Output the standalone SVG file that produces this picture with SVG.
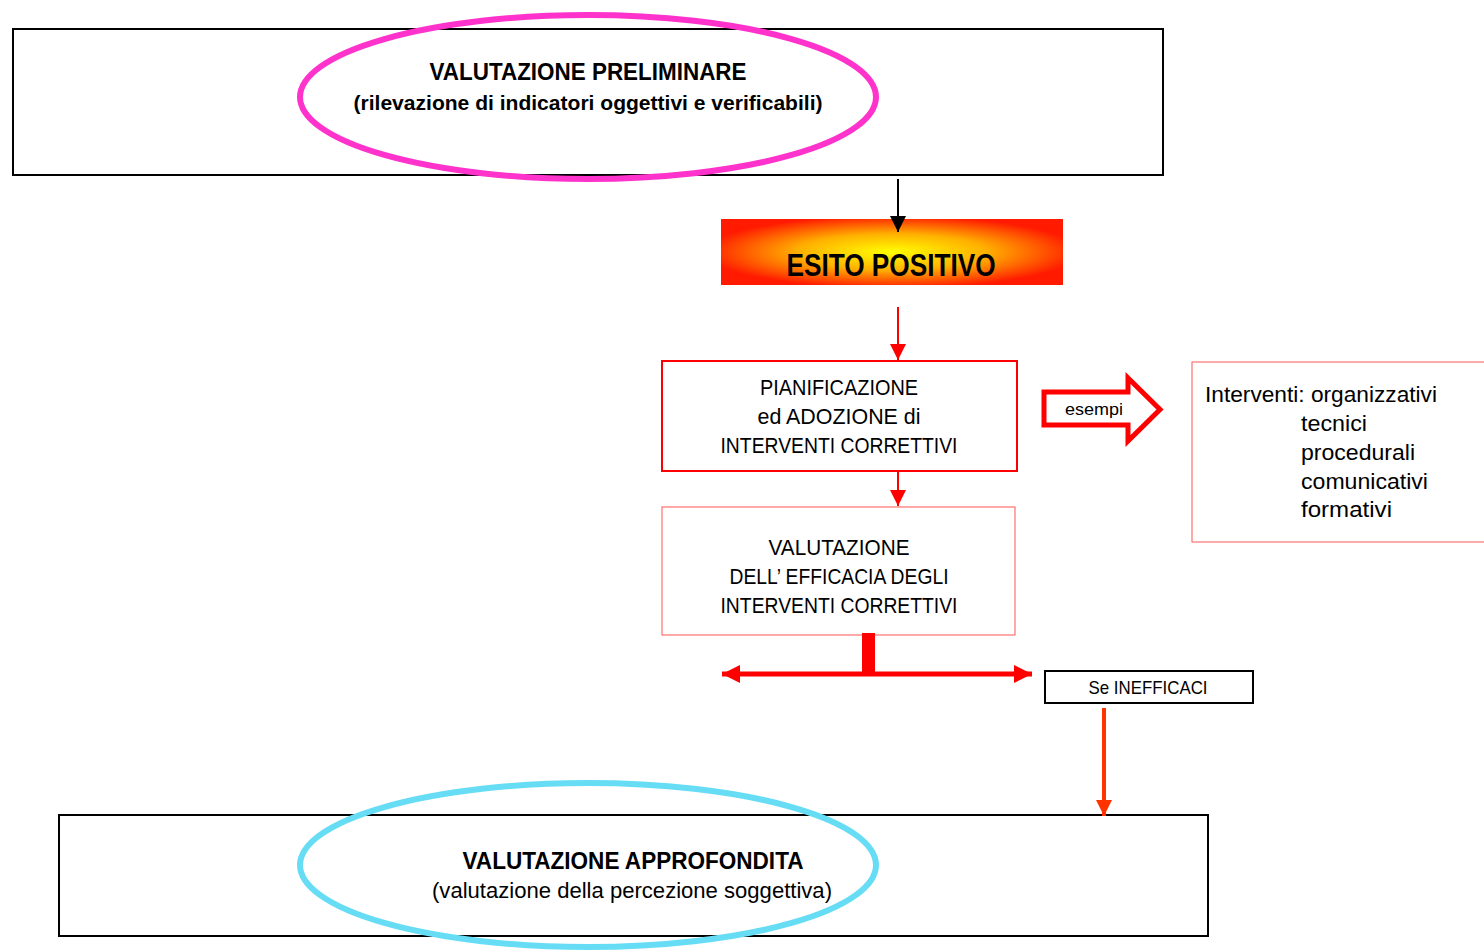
<svg xmlns="http://www.w3.org/2000/svg" width="1484" height="950" viewBox="0 0 1484 950">
<style>
text{font-family:"Liberation Sans",Arial,sans-serif;fill:#000}
.b{font-weight:bold}
.c{text-anchor:middle}
</style>
<defs>
<radialGradient id="g" cx="0.5" cy="0.5" r="0.55" gradientTransform="translate(0.5 0.5) scale(1 1) translate(-0.5 -0.5)">
<stop offset="0" stop-color="#ffff00"/>
<stop offset="0.5" stop-color="#ffb000"/>
<stop offset="1" stop-color="#ff1a00"/>
</radialGradient>
<marker id="ab" viewBox="0 0 10 10" refX="10" refY="5" markerWidth="16" markerHeight="16" markerUnits="userSpaceOnUse" orient="auto"><path d="M0,0L10,5L0,10z" fill="#000"/></marker>
<marker id="ar" viewBox="0 0 10 10" refX="10" refY="5" markerWidth="16" markerHeight="16" markerUnits="userSpaceOnUse" orient="auto"><path d="M0,0L10,5L0,10z" fill="#ff0000"/></marker>
<marker id="ao" viewBox="0 0 10 10" refX="10" refY="5" markerWidth="16" markerHeight="16" markerUnits="userSpaceOnUse" orient="auto"><path d="M0,0L10,5L0,10z" fill="#ff3300"/></marker>
<marker id="ah" viewBox="0 0 10 10" refX="10" refY="5" markerWidth="18" markerHeight="18" markerUnits="userSpaceOnUse" orient="auto-start-reverse"><path d="M0,0L10,5L0,10z" fill="#ff0000"/></marker>
</defs>
<rect width="1484" height="950" fill="#fff"/>

<g id="prelim">
<rect x="13" y="29" width="1150" height="146" fill="#fff" stroke="#000" stroke-width="2"/>
<ellipse cx="588" cy="97" rx="288" ry="82" fill="none" stroke="#ff33cc" stroke-width="6"/>
<text class="b c" x="588" y="80" font-size="24" textLength="317" lengthAdjust="spacingAndGlyphs">VALUTAZIONE PRELIMINARE</text>
<text class="b c" x="588" y="110" font-size="21" textLength="469" lengthAdjust="spacingAndGlyphs">(rilevazione di indicatori oggettivi e verificabili)</text>
</g>

<g id="esito">
<rect x="721" y="219" width="342" height="66" fill="url(#g)"/>
<text class="b c" x="891" y="276" font-size="31" textLength="209" lengthAdjust="spacingAndGlyphs">ESITO POSITIVO</text>
</g>

<g id="pianificazione">
<rect x="662" y="361" width="355" height="110" fill="#fff" stroke="#ff0000" stroke-width="2"/>
<text class="c" x="839" y="395" font-size="22" textLength="158" lengthAdjust="spacingAndGlyphs">PIANIFICAZIONE</text>
<text class="c" x="839" y="424" font-size="22" textLength="163" lengthAdjust="spacingAndGlyphs">ed ADOZIONE  di</text>
<text class="c" x="839" y="453" font-size="22" textLength="237" lengthAdjust="spacingAndGlyphs">INTERVENTI CORRETTIVI</text>
</g>

<g id="valutazione-efficacia">
<rect x="662" y="507" width="353" height="128" fill="#fff" stroke="#ff5555" stroke-width="1"/>
<text class="c" x="839" y="555" font-size="22" textLength="141" lengthAdjust="spacingAndGlyphs">VALUTAZIONE</text>
<text class="c" x="839" y="584" font-size="22" textLength="219" lengthAdjust="spacingAndGlyphs">DELL’ EFFICACIA DEGLI</text>
<text class="c" x="839" y="613" font-size="22" textLength="237" lengthAdjust="spacingAndGlyphs">INTERVENTI CORRETTIVI</text>
</g>

<g id="esempi">
<path d="M1044,392 L1128,392 L1128,378 L1160,409.5 L1128,441 L1128,425 L1044,425 Z" fill="#fff" stroke="#ff0000" stroke-width="5" stroke-linejoin="miter"/>
<text class="c" x="1094" y="415" font-size="17" textLength="58" lengthAdjust="spacingAndGlyphs">esempi</text>
</g>

<g id="interventi">
<rect x="1192" y="362" width="300" height="180" fill="#fff" stroke="#ff5555" stroke-width="1"/>
<text x="1205" y="402" font-size="22" textLength="232" lengthAdjust="spacingAndGlyphs">Interventi: organizzativi</text>
<text x="1301" y="431" font-size="22" textLength="66" lengthAdjust="spacingAndGlyphs">tecnici</text>
<text x="1301" y="460" font-size="22" textLength="114" lengthAdjust="spacingAndGlyphs">procedurali</text>
<text x="1301" y="489" font-size="22" textLength="127" lengthAdjust="spacingAndGlyphs">comunicativi</text>
<text x="1301" y="517" font-size="22" textLength="91" lengthAdjust="spacingAndGlyphs">formativi</text>
</g>

<g id="inefficaci">
<rect x="1045" y="671" width="208" height="32" fill="#fff" stroke="#000" stroke-width="2"/>
<text class="c" x="1148" y="694" font-size="19" textLength="119" lengthAdjust="spacingAndGlyphs">Se INEFFICACI</text>
</g>

<g id="approfondita">
<rect x="59" y="815" width="1149" height="121" fill="#fff" stroke="#000" stroke-width="2"/>
<ellipse cx="588" cy="865" rx="288" ry="82" fill="none" stroke="#66ddf5" stroke-width="6"/>
<text class="b c" x="633" y="869" font-size="24" textLength="341" lengthAdjust="spacingAndGlyphs">VALUTAZIONE APPROFONDITA</text>
<text class="c" x="632" y="898" font-size="22" textLength="400" lengthAdjust="spacingAndGlyphs">(valutazione della percezione soggettiva)</text>
</g>

<g id="connectors">
<line x1="898" y1="179" x2="898" y2="232" stroke="#000" stroke-width="2" marker-end="url(#ab)"/>
<line x1="898" y1="307" x2="898" y2="360" stroke="#ff0000" stroke-width="2" marker-end="url(#ar)"/>
<line x1="898" y1="471" x2="898" y2="506" stroke="#ff0000" stroke-width="2" marker-end="url(#ar)"/>
<rect x="862" y="633" width="13" height="41" fill="#ff0000"/>
<line x1="722" y1="674" x2="1032" y2="674" stroke="#ff0000" stroke-width="5" marker-start="url(#ah)" marker-end="url(#ah)"/>
<line x1="1104" y1="708" x2="1104" y2="816" stroke="#ff3300" stroke-width="4" marker-end="url(#ao)"/>
</g>
</svg>
